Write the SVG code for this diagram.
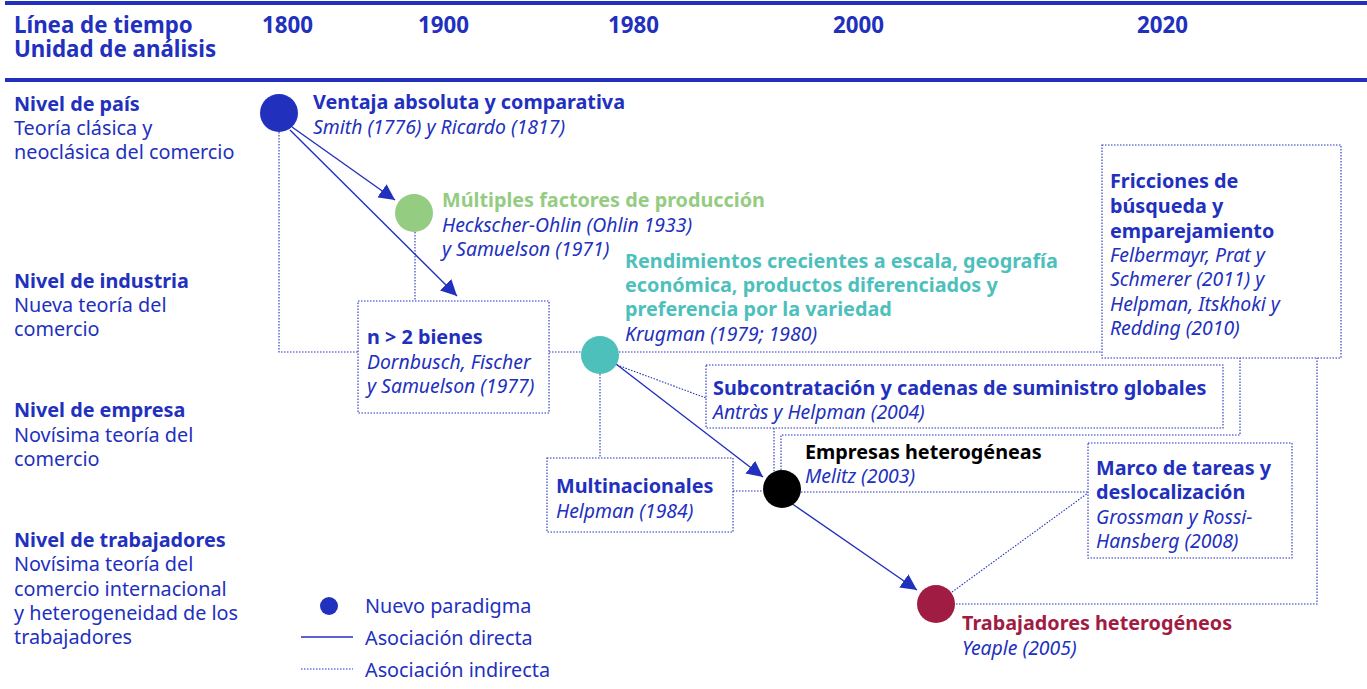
<svg xmlns="http://www.w3.org/2000/svg" width="1367" height="689" viewBox="0 0 1367 689">
<defs>
<style>
text{font-family:"Noto Sans","Open Sans","DejaVu Sans",sans-serif;fill:#2230be;font-size:19.8px}
.b{font-weight:bold}
.i{font-style:italic;font-size:19.4px}
.h{font-weight:bold;font-size:22.3px}
.g{fill:#94cc82}
.t{fill:#4dc0bc}
.k{fill:#000}
.r{fill:#a11c43}
.dot{fill:none;stroke:#2230be;stroke-width:1.1;stroke-dasharray:1.5 1.5}
.sol{fill:none;stroke:#2230be;stroke-width:1.4}
</style>
<marker id="ah" viewBox="0 0 10 10" refX="10" refY="5" markerWidth="16" markerHeight="16" markerUnits="userSpaceOnUse" orient="auto">
<path d="M0,0 L10,5 L0,10 z" fill="#2230be"/>
</marker>
</defs>
<rect width="1367" height="689" fill="#fff"/>
<g id="header">
<rect x="5" y="1" width="1362" height="4" fill="#2230be"/>
<rect x="5" y="78" width="1362" height="4" fill="#2230be"/>
<text class="h" x="14" y="33">Línea de tiempo<tspan x="14" dy="24">Unidad de análisis</tspan></text>
<text class="h" x="262" y="33">1800</text>
<text class="h" x="418" y="33">1900</text>
<text class="h" x="608" y="33">1980</text>
<text class="h" x="833" y="33">2000</text>
<text class="h" x="1137" y="33">2020</text>
</g>
<g id="levels">
<text x="14" y="111"><tspan class="b">Nivel de país</tspan><tspan x="14" dy="24">Teoría clásica y</tspan><tspan x="14" dy="24">neoclásica del comercio</tspan></text>
<text x="14" y="288"><tspan class="b">Nivel de industria</tspan><tspan x="14" dy="24">Nueva teoría del</tspan><tspan x="14" dy="24">comercio</tspan></text>
<text x="14" y="417"><tspan class="b">Nivel de empresa</tspan><tspan x="14" dy="25">Novísima teoría del</tspan><tspan x="14" dy="24">comercio</tspan></text>
<text x="14" y="547"><tspan class="b">Nivel de trabajadores</tspan><tspan x="14" dy="24">Novísima teoría del</tspan><tspan x="14" dy="25">comercio internacional</tspan><tspan x="14" dy="24">y heterogeneidad de los</tspan><tspan x="14" dy="24">trabajadores</tspan></text>
</g>
<g id="connectors">
<polyline class="dot" points="279,132 279,352 358,352"/>
<line class="dot" x1="415" y1="232" x2="415" y2="301"/>
<line class="dot" x1="549" y1="352" x2="581" y2="352"/>
<line class="dot" x1="619" y1="352" x2="1102" y2="352"/>
<line class="dot" x1="617" y1="365" x2="706" y2="398"/>
<line class="dot" x1="774" y1="428" x2="774" y2="471"/>
<polyline class="dot" points="781,470 781,435 1240,435 1240,358"/>
<line class="dot" x1="600" y1="374" x2="600" y2="458"/>
<line class="dot" x1="733" y1="491" x2="763" y2="491"/>
<line class="dot" x1="801" y1="492" x2="1088" y2="492"/>
<line class="dot" x1="952" y1="592" x2="1088" y2="493"/>
<polyline class="dot" points="956,604 1317,604 1317,358"/>
<line class="sol" x1="292" y1="127" x2="395" y2="200" marker-end="url(#ah)"/>
<line class="sol" x1="290" y1="130" x2="457" y2="296" marker-end="url(#ah)"/>
<line class="sol" x1="616" y1="364" x2="763" y2="477" marker-end="url(#ah)"/>
<line class="sol" x1="791" y1="503" x2="917" y2="590" marker-end="url(#ah)"/>
</g>
<g id="n-ventaja">
<circle cx="279" cy="113" r="19" fill="#2230be"/>
<text x="313" y="109"><tspan class="b">Ventaja absoluta y comparativa</tspan><tspan class="i" x="313" dy="25">Smith (1776) y Ricardo (1817)</tspan></text>
</g>
<g id="n-multiples">
<circle cx="414" cy="213" r="19" fill="#94cc82"/>
<text x="442" y="207"><tspan class="b g">Múltiples factores de producción</tspan><tspan class="i" x="442" dy="25">Heckscher-Ohlin (Ohlin 1933)</tspan><tspan class="i" x="442" dy="24">y Samuelson (1971)</tspan></text>
</g>
<g id="n-bienes">
<rect class="dot" x="358" y="301" width="191" height="112"/>
<text x="367" y="344"><tspan class="b">n &gt; 2 bienes</tspan><tspan class="i" x="367" dy="25">Dornbusch, Fischer</tspan><tspan class="i" x="367" dy="24">y Samuelson (1977)</tspan></text>
</g>
<g id="n-krugman">
<circle cx="600" cy="355" r="19" fill="#4dc0bc"/>
<text x="625" y="268"><tspan class="b t">Rendimientos crecientes a escala, geografía</tspan><tspan class="b t" x="625" dy="24">económica, productos diferenciados y</tspan><tspan class="b t" x="625" dy="24">preferencia por la variedad</tspan><tspan class="i" x="625" dy="25">Krugman (1979; 1980)</tspan></text>
</g>
<g id="n-fricciones">
<rect class="dot" x="1102" y="145" width="239" height="213"/>
<text x="1110" y="188"><tspan class="b">Fricciones de</tspan><tspan class="b" x="1110" dy="25">búsqueda y</tspan><tspan class="b" x="1110" dy="25">emparejamiento</tspan><tspan class="i" x="1110" dy="24">Felbermayr, Prat y</tspan><tspan class="i" x="1110" dy="24">Schmerer (2011) y</tspan><tspan class="i" x="1110" dy="25">Helpman, Itskhoki y</tspan><tspan class="i" x="1110" dy="24">Redding (2010)</tspan></text>
</g>
<g id="n-subcontratacion">
<rect class="dot" x="706" y="365" width="517" height="63"/>
<text x="713" y="395"><tspan class="b">Subcontratación y cadenas de suministro globales</tspan><tspan class="i" x="713" dy="24">Antràs y Helpman (2004)</tspan></text>
</g>
<g id="n-multinacionales">
<rect class="dot" x="547" y="458" width="186" height="74"/>
<text x="556" y="493"><tspan class="b">Multinacionales</tspan><tspan class="i" x="556" dy="25">Helpman (1984)</tspan></text>
</g>
<g id="n-empresas">
<circle cx="782" cy="489" r="19" fill="#000"/>
<text x="805" y="459"><tspan class="b k">Empresas heterogéneas</tspan><tspan class="i" x="805" dy="24">Melitz (2003)</tspan></text>
</g>
<g id="n-marco">
<rect class="dot" x="1088" y="443" width="204" height="115"/>
<text x="1096" y="475"><tspan class="b">Marco de tareas y</tspan><tspan class="b" x="1096" dy="24">deslocalización</tspan><tspan class="i" x="1096" dy="25">Grossman y Rossi-</tspan><tspan class="i" x="1096" dy="24">Hansberg (2008)</tspan></text>
</g>
<g id="n-trabajadores">
<circle cx="936" cy="604" r="19" fill="#a11c43"/>
<text x="962" y="630"><tspan class="b r">Trabajadores heterogéneos</tspan><tspan class="i" x="962" dy="25">Yeaple (2005)</tspan></text>
</g>
<g id="legend">
<circle cx="329" cy="606" r="9" fill="#2230be"/>
<text x="365" y="613">Nuevo paradigma</text>
<line class="sol" x1="301" y1="637" x2="353" y2="637"/>
<text x="365" y="645">Asociación directa</text>
<line class="dot" x1="301" y1="669" x2="353" y2="669"/>
<text x="365" y="677">Asociación indirecta</text>
</g>
</svg>
